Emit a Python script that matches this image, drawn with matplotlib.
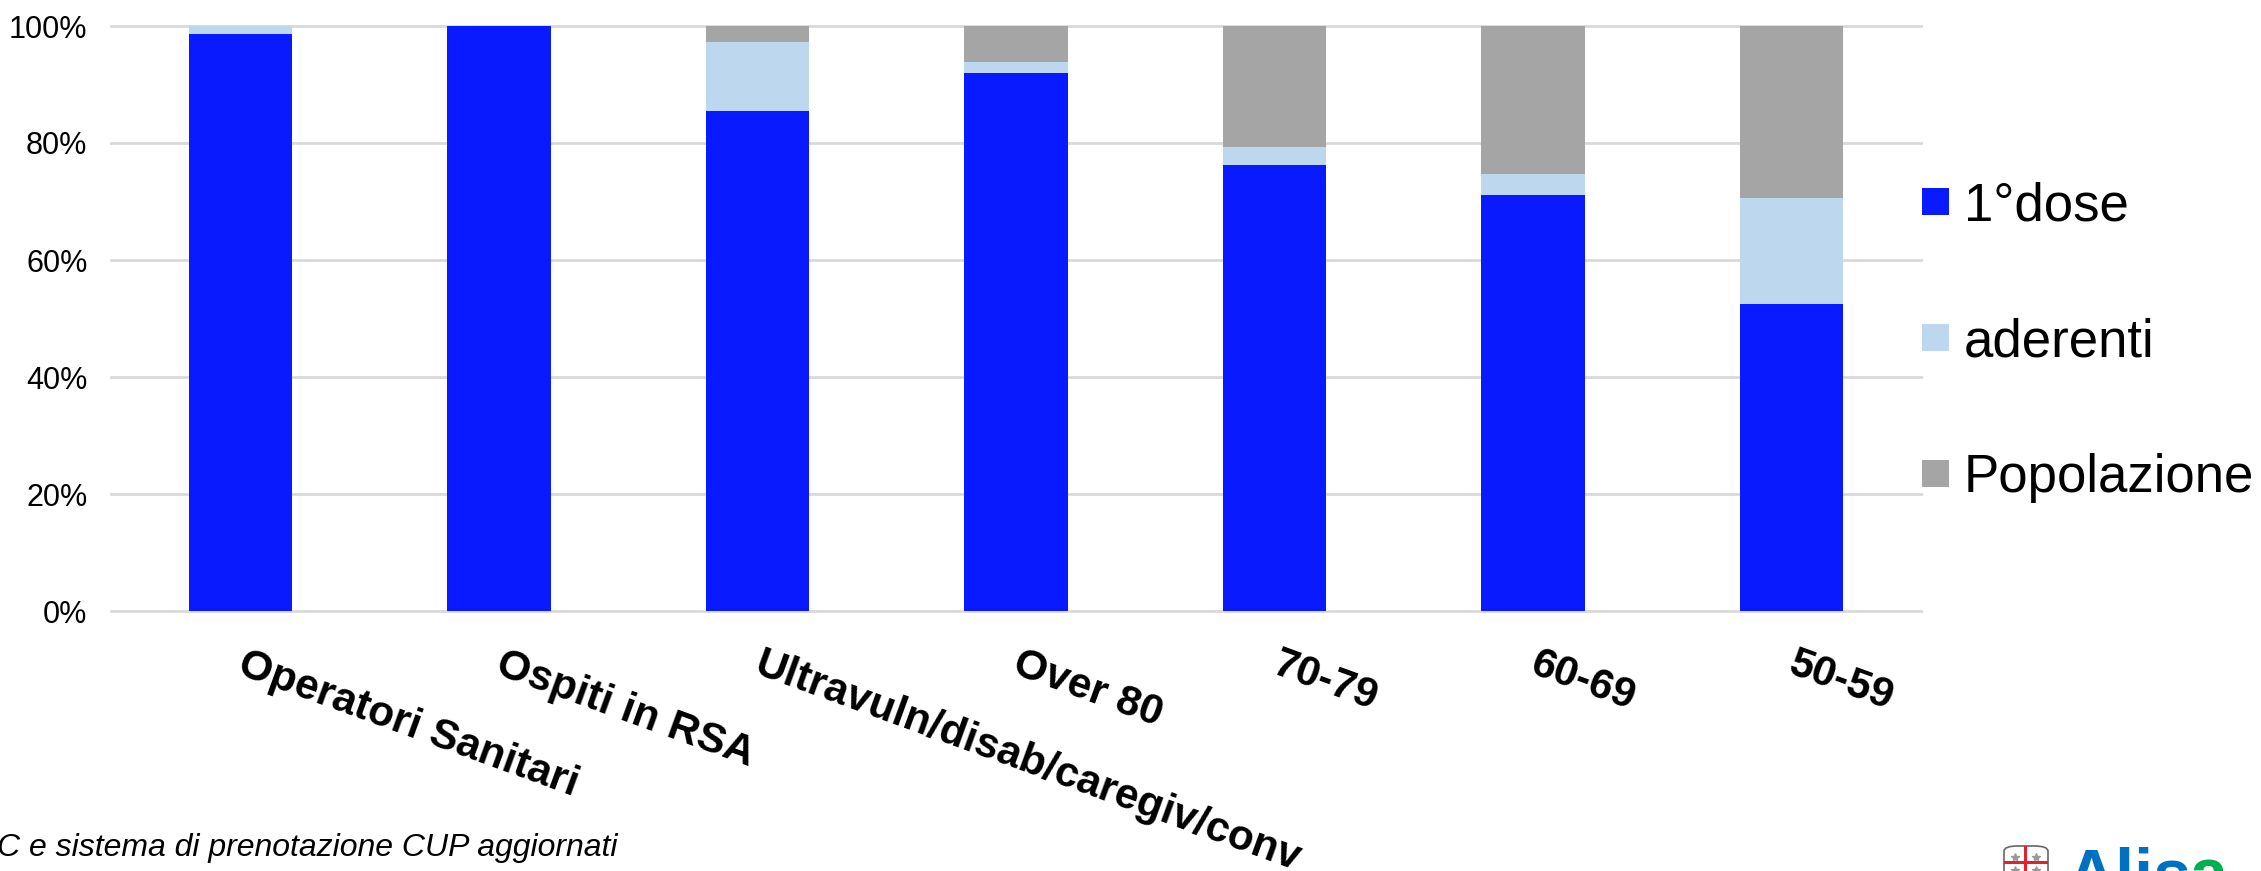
import matplotlib.pyplot as plt
from matplotlib.lines import Line2D
from matplotlib.patches import Rectangle, FancyBboxPatch
from matplotlib.transforms import ScaledTranslation

plt.rcParams['font.family'] = ['Liberation Sans', 'DejaVu Sans']

categories = ['Operatori Sanitari', 'Ospiti in RSA', 'Ultravuln/disab/caregiv/conv',
              'Over 80', '70-79', '60-69', '50-59']
dose1 = [98.6, 100, 85.4, 92.0, 76.3, 71.05, 52.4]
aderenti = [1.4, 0, 11.95, 1.85, 3.0, 3.65, 18.2]
popolazione = [0, 0, 2.65, 6.15, 20.7, 25.3, 29.4]
yticks = [0, 20, 40, 60, 80, 100]

W, H = 2261, 871
fig = plt.figure(figsize=(W / 100, H / 100), dpi=100)
ax = fig.add_axes([111 / W, 1 - 611 / H, (1921 - 111) / W, 585 / H])

x = list(range(len(categories)))
bottom2 = dose1
bottom3 = [a + b for a, b in zip(dose1, aderenti)]
bw = 0.4
ax.bar(x, dose1, bw, color='#0A1AFF', zorder=3, label='1°dose')
ax.bar(x, aderenti, bw, bottom=bottom2, color='#BDD7EE', zorder=3, label='aderenti')
ax.bar(x, popolazione, bw, bottom=bottom3, color='#A5A5A5', zorder=3, label='Popolazione')

ax.set_xlim(-0.5, 6.5)
ax.set_ylim(0, 100)
ax.set_yticks(yticks)
ax.set_yticklabels([f'{v}%' for v in yticks], fontsize=22)
ax.set_xticks(x)
ax.set_xticklabels(categories, fontsize=30.5, fontweight='bold', rotation=-20,
                   ha='left', va='top', rotation_mode='anchor')
ax.tick_params(length=0)
ax.tick_params(axis='y', pad=17)
ax.tick_params(axis='x', pad=24)
shift = ScaledTranslation(6 / 100, 0, fig.dpi_scale_trans)
for lab in ax.get_xticklabels():
    lab.set_transform(lab.get_transform() + shift)
ax.grid(axis='y', color='#D9D9D9', lw=2, zorder=0, clip_on=False)
for s in ax.spines.values():
    s.set_visible(False)

# legend
handles, labels = ax.get_legend_handles_labels()
fig.legend(handles, labels, loc='center left', bbox_to_anchor=(1922 / W, 1 - 342.5 / H),
           frameon=False, fontsize=38, handlelength=0.51, handleheight=0.41,
           handletextpad=0.28, labelspacing=1.625, borderpad=0, borderaxespad=0)

# footer, cut at the left edge in the source
fig.text(-3 / W, 1 - 848 / H, 'C e sistema di prenotazione CUP aggiornati', fontsize=23,
         style='italic', ha='left', va='center')

# logo, cut at the bottom edge
shield = FancyBboxPatch((2004 / W, -0.03), 44 / W, 0.03 + (871 - 846) / H,
                        boxstyle='round,pad=0,rounding_size=0.006', transform=fig.transFigure,
                        fc='white', ec='#666666', lw=1.2, mutation_aspect=1)
fig.add_artist(shield)
fig.add_artist(Rectangle((2024 / W, 0), 3 / W, 25 / H, transform=fig.transFigure, fc='#E4202C', ec='none'))
fig.add_artist(Rectangle((2004 / W, 1 - 864 / H), 44 / W, 3 / H, transform=fig.transFigure, fc='#E4202C', ec='none'))
fig.add_artist(Line2D([2015 / W, 2036 / W, 2015 / W, 2036 / W], [1 - 857 / H, 1 - 857 / H, 1 - 870 / H, 1 - 870 / H],
                      transform=fig.transFigure, ls='none', marker='*', ms=6, color='#999999'))
fig.text(2066 / W, 1 - 896 / H, 'Alis', fontsize=49, fontweight='bold', color='#0070C0', va='baseline')
fig.text(2190 / W, 1 - 896 / H, 'a', fontsize=49, fontweight='bold', color='#00B050', va='baseline')

fig.savefig('out.png', dpi=100)
